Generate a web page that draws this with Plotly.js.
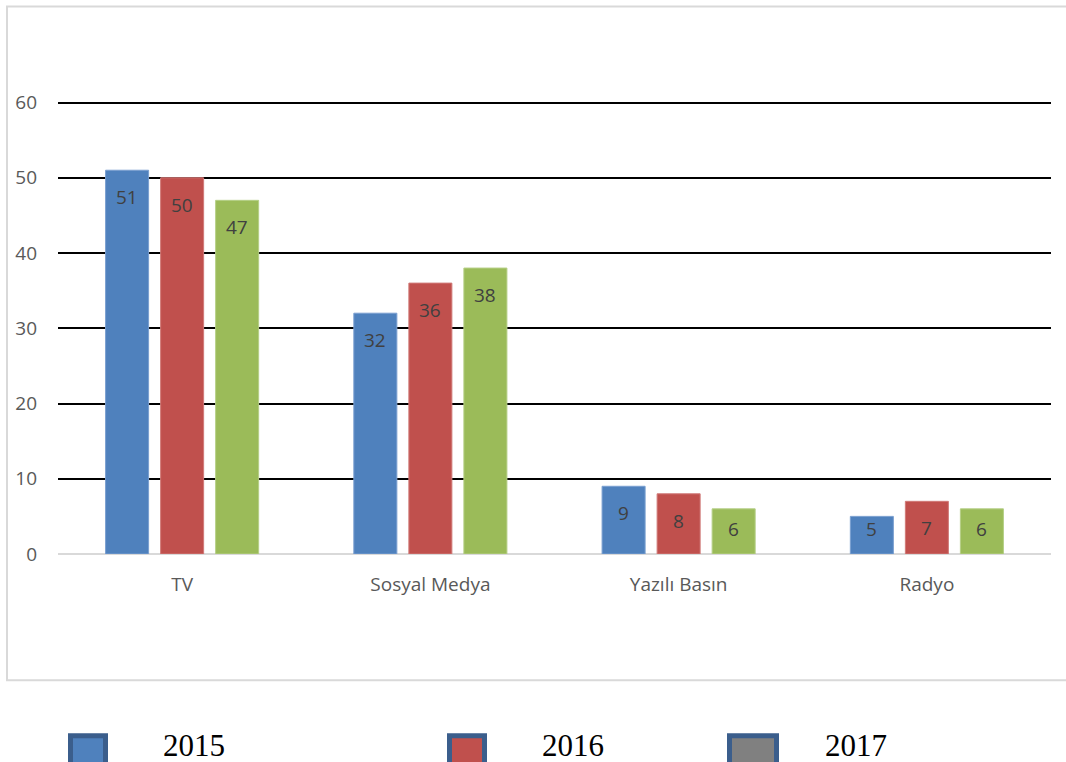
<!DOCTYPE html>
<html>
<head>
<meta charset="utf-8">
<script src="https://cdn.plot.ly/plotly-3.0.1.min.js"></script>
<style>html,body{margin:0;padding:0;background:#fff;}#chart{width:1066px;height:762px;}</style>
</head>
<body>
<div id="chart"></div>
<script>
var categories = ["TV", "Sosyal Medya", "Yazılı Basın", "Radyo"];
var years = ["2015", "2016", "2017"];
var values2015 = [51, 32, 9, 5];
var values2016 = [50, 36, 8, 7];
var values2017 = [47, 38, 6, 6];
var barColors = ["#4F81BD", "#C0504D", "#9BBB59"];
var barEdges = ["#7A9FD0", "#D07A78", "#B5CF86"];
var legendColors = ["#4F81BD", "#C0504D", "#808080"];
var yTicks = [0, 10, 20, 30, 40, 50, 60];

var series = [values2015, values2016, values2017];

// plot area in pixels
var yMax = 60.2;
var L = 58, R = 1051, B = 554, W = 1066, H = 762;
var unit = 451 / 60;
var T = B - yMax * unit;
function px(x) { return (x - L) / (R - L); }
function py(y) { return (B - y) / (B - T); }

var bargap = 0.335, bargroupgap = 0.218;
var slot = (1 - bargap) / 3;

var traces = series.map(function (vals, k) {
  return {
    type: "bar",
    name: years[k],
    x: categories,
    y: vals,
    marker: { color: barColors[k], line: { color: barEdges[k], width: 1 } },
    hoverinfo: "x+y+name",
    showlegend: false
  };
});

var annotations = [];
series.forEach(function (vals, k) {
  vals.forEach(function (v, i) {
    annotations.push({
      xref: "x", yref: "y",
      x: i + (k - 1) * slot,
      y: Math.max(v, 6.9),
      yshift: -27,
      text: String(v),
      showarrow: false,
      xanchor: "center", yanchor: "middle",
      font: { family: "Open Sans, sans-serif", size: 19, color: "#404040" }
    });
  });
});

// legend (drawn below the chart frame)
var legBoxes = [[70.5, 105.5], [449.5, 484.5], [729.5, 776.5]];
var legText = [194, 573, 856];
var shapes = [
  { type: "rect", xref: "paper", yref: "paper", layer: "below",
    x0: px(7), x1: px(1075), y0: py(680), y1: py(7),
    line: { color: "#D9D9D9", width: 2 }, fillcolor: "rgba(0,0,0,0)" }
];
years.forEach(function (yr, k) {
  shapes.push({
    type: "rect", xref: "paper", yref: "paper",
    x0: px(legBoxes[k][0]), x1: px(legBoxes[k][1]),
    y0: py(772), y1: py(735.5),
    fillcolor: legendColors[k],
    line: { color: "#3B5E8C", width: 5 }
  });
  annotations.push({
    xref: "paper", yref: "paper",
    x: px(legText[k]), y: py(745),
    text: yr, showarrow: false,
    xanchor: "center", yanchor: "middle",
    font: { family: "Liberation Serif, Times New Roman, serif", size: 31, color: "#000000" }
  });
});

var layout = {
  width: W, height: H,
  margin: { l: L, r: W - R, t: T, b: H - B, pad: 0 },
  paper_bgcolor: "#ffffff",
  plot_bgcolor: "#ffffff",
  barmode: "group",
  bargap: bargap,
  bargroupgap: bargroupgap,
  showlegend: false,
  xaxis: {
    type: "category",
    showgrid: false, showline: false, zeroline: false,
    ticks: "", ticklabelstandoff: 17,
    tickfont: { family: "Open Sans, sans-serif", size: 19, color: "#595959" }
  },
  yaxis: {
    range: [0, yMax],
    tickvals: yTicks,
    showgrid: true, gridcolor: "#000000", gridwidth: 2,
    zeroline: true, zerolinecolor: "#D9D9D9", zerolinewidth: 2,
    showline: false, ticks: "", ticklabelstandoff: 20,
    tickfont: { family: "Open Sans, sans-serif", size: 19, color: "#595959" }
  },
  shapes: shapes,
  annotations: annotations
};

Plotly.newPlot("chart", traces, layout, { displayModeBar: false, staticPlot: true });
</script>
</body>
</html>
